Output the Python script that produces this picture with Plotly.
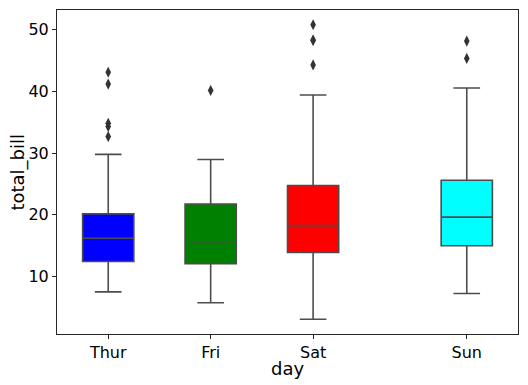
import plotly.graph_objects as go

days = ["Thur", "Fri", "Sat", "Sun"]
positions = [0, 1, 2, 3.5]
colors = ["#0000ff", "#008000", "#ff0000", "#00ffff"]
q1 = [12.4425, 12.095, 13.905, 14.9875]
median = [16.2, 15.38, 18.24, 19.63]
q3 = [20.155, 21.75, 24.74, 25.5975]
lower_whisker = [7.51, 5.75, 3.07, 7.25]
upper_whisker = [29.80, 28.97, 39.42, 40.55]
outliers = [
    [32.68, 34.30, 34.83, 41.19, 43.11],
    [40.17],
    [44.30, 48.27, 48.33, 50.81],
    [45.35, 48.17],
]

line_col = "#4d4d4d"
fig = go.Figure()
for i, d in enumerate(days):
    fig.add_trace(go.Box(
        x=[positions[i]], q1=[q1[i]], median=[median[i]], q3=[q3[i]],
        lowerfence=[lower_whisker[i]], upperfence=[upper_whisker[i]],
        width=0.5, whiskerwidth=0.52, fillcolor=colors[i],
        line=dict(color=line_col, width=1.6), boxpoints=False,
        name=d, showlegend=False, hoverinfo="skip",
    ))
    fig.add_trace(go.Scatter(
        x=[positions[i]] * len(outliers[i]), y=outliers[i], mode="markers",
        marker=dict(symbol="diamond-tall", size=8, color="#333333"),
        showlegend=False, hoverinfo="skip",
    ))

axis_common = dict(
    showline=True, linecolor="#262626", linewidth=1, mirror=True,
    ticks="outside", ticklen=4, tickcolor="#262626", tickwidth=1,
    showgrid=False, zeroline=False, automargin=False,
    tickfont=dict(family="DejaVu Sans", size=16, color="#000000"),
)
title_font = dict(family="DejaVu Sans", size=18, color="#000000")
# page body has an 8px default margin, so the figure is sized to fit the window
fig.update_layout(
    width=520, height=377,
    margin=dict(l=49, r=10, t=2, b=51),
    plot_bgcolor="white", paper_bgcolor="white",
    xaxis=dict(range=[-0.5, 4.0], tickvals=positions, ticktext=days, **axis_common),
    yaxis=dict(range=[0.68, 53.2], tickvals=[10, 20, 30, 40, 50], **axis_common),
    annotations=[
        dict(text="day", xref="paper", yref="paper", x=0.5, y=-0.108,
             xanchor="center", yanchor="middle", showarrow=False, font=title_font),
        dict(text="total_bill", xref="paper", yref="paper", x=-0.0855, y=0.5,
             xanchor="center", yanchor="middle", textangle=-90, showarrow=False, font=title_font),
    ],
)
fig.write_html("out.html")
